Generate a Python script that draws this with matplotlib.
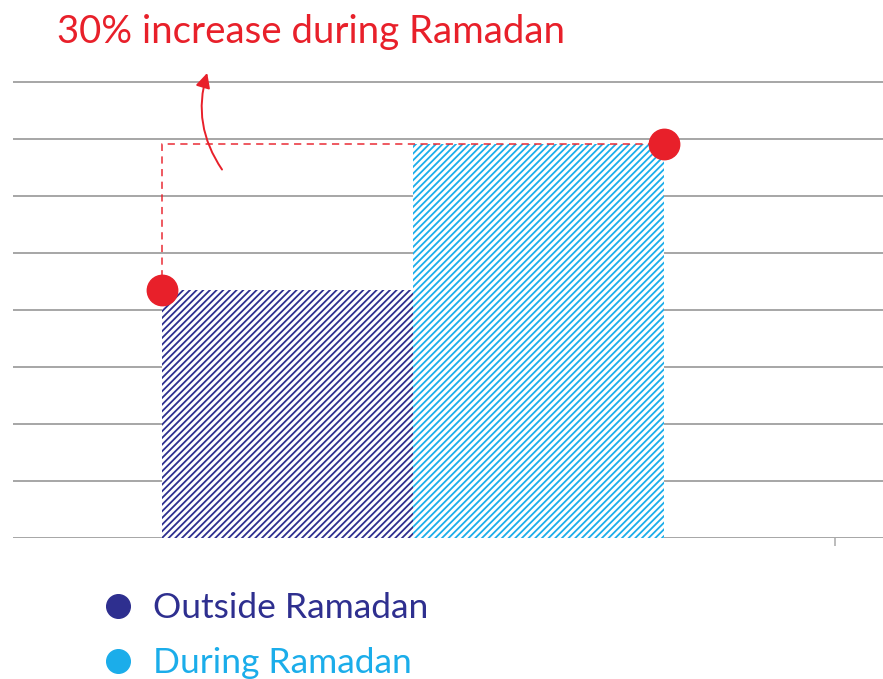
import numpy as np
import matplotlib.pyplot as plt
from matplotlib.lines import Line2D

# data (gridline = 1 unit)
labels = ['Outside Ramadan', 'During Ramadan']
values = [4.35, 6.9]
colors = ['#2e2f8f', '#1badea']
red = '#e8202a'
title = '30% increase during Ramadan'

plt.rcParams['font.family'] = ['Lato', 'DejaVu Sans']
plt.rcParams['hatch.linewidth'] = 1.3

fig = plt.figure(figsize=(8.83, 6.79), dpi=100)
ax = fig.add_axes([13 / 883, 141 / 679, 870 / 883, 462 / 679])

x = np.arange(len(values))
for i in range(len(values)):
    ax.bar(x[i], values[i], width=1.0, facecolor='white', edgecolor=colors[i],
           hatch='/////', linewidth=0, zorder=2)

# grid lines
for g in range(0, 9):
    ax.axhline(g, color='#a6a6a6', lw=1.4, zorder=1)

ax.set_xlim(-1.094, 2.372)
ax.set_ylim(0, 8.1)
for s in ax.spines.values():
    s.set_visible(False)
ax.set_yticks([])
ax.set_xticks([2.18])
ax.set_xticklabels([])
ax.tick_params(axis='x', length=6, width=1.2, color='#b0b0b0')

# dashed comparison line + dots
left = x[0] - 0.5
right = x[1] + 0.5
ax.plot([left, left, right], [values[0], values[1], values[1]], ls=(0, (4, 3)),
        color=red, lw=1.3, zorder=3, alpha=0.8)
ax.scatter([left, right], values, s=480, color=red, zorder=4, clip_on=False)

# curved arrow
ax.annotate('', xy=(-0.317, 8.2), xytext=(-0.255, 6.42),
            arrowprops=dict(arrowstyle='-|>', color=red, lw=1.4,
                            mutation_scale=22,
                            connectionstyle='arc3,rad=-0.25'),
            annotation_clip=False)

fig.text(57 / 883, 1 - 32 / 679, title, color=red, fontsize=27.6,
         va='center', ha='left')

# legend
handles = [Line2D([], [], ls='', marker='o', markersize=17, color=c) for c in colors]
leg = fig.legend(handles, labels, loc='upper left', bbox_to_anchor=(100 / 883, 1 - 592 / 679),
                 frameon=False, fontsize=25.5, handletextpad=0.5, labelspacing=0.65,
                 handlelength=1.0, borderpad=0, borderaxespad=0)
for t, c in zip(leg.get_texts(), colors):
    t.set_color(c)

fig.savefig('out.png', dpi=100)
